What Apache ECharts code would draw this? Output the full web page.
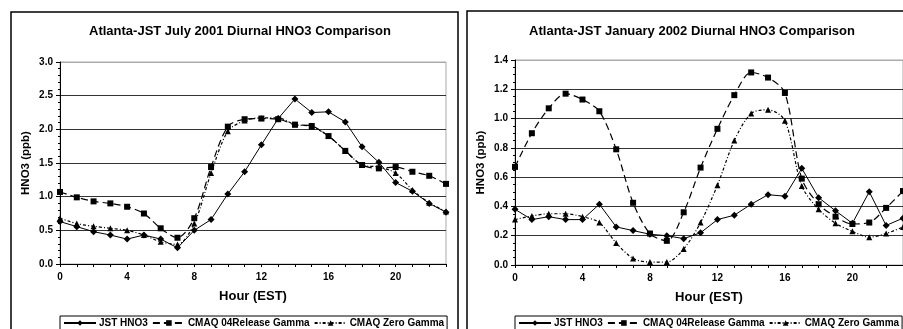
<!DOCTYPE html>
<html>
<head>
<meta charset="utf-8">
<script src="https://cdn.jsdelivr.net/npm/echarts@6/dist/echarts.min.js"></script>
<style>
html, body {margin: 0; padding: 0; background: #fff;}
#showcase {width: 903px; height: 329px;}
</style>
</head>
<body>
<div id="showcase"></div>
<script>
var hours = [];
for (var i = 0; i < 24; i++) hours.push(String(i));

var seriesNames = ["JST HNO3", "CMAQ 04Release Gamma", "CMAQ Zero Gamma"];
var titles = ["Atlanta-JST July 2001 Diurnal HNO3 Comparison", "Atlanta-JST January 2002 Diurnal HNO3 Comparison"];

// July 2001
var jstJul = [0.63, 0.555, 0.48, 0.43, 0.37, 0.43, 0.37, 0.24, 0.50, 0.66, 1.04, 1.37, 1.77, 2.16, 2.45, 2.25, 2.26, 2.11, 1.74, 1.51, 1.21, 1.08, 0.90, 0.77];
var relJul = [1.07, 0.99, 0.93, 0.90, 0.85, 0.75, 0.53, 0.39, 0.68, 1.44, 2.04, 2.15, 2.16, 2.15, 2.07, 2.05, 1.90, 1.68, 1.47, 1.42, 1.44, 1.37, 1.31, 1.19];
var zeroJul = [0.68, 0.60, 0.56, 0.53, 0.50, 0.43, 0.33, 0.29, 0.60, 1.35, 1.97, 2.13, 2.17, 2.17, 2.07, 2.04, 1.90, 1.68, 1.47, 1.44, 1.35, 1.10, 0.91, 0.78];

// January 2002
var jstJan = [0.38, 0.31, 0.33, 0.31, 0.31, 0.415, 0.26, 0.235, 0.21, 0.20, 0.18, 0.22, 0.31, 0.34, 0.415, 0.48, 0.47, 0.66, 0.46, 0.37, 0.285, 0.50, 0.27, 0.32];
var relJan = [0.67, 0.90, 1.07, 1.17, 1.13, 1.05, 0.79, 0.425, 0.215, 0.165, 0.36, 0.665, 0.93, 1.16, 1.315, 1.28, 1.175, 0.59, 0.415, 0.33, 0.28, 0.29, 0.39, 0.505];
var zeroJan = [0.31, 0.335, 0.35, 0.35, 0.33, 0.29, 0.15, 0.045, 0.02, 0.02, 0.11, 0.29, 0.545, 0.85, 1.035, 1.06, 0.985, 0.54, 0.38, 0.285, 0.23, 0.19, 0.215, 0.26];

var font = "Liberation Sans";
var bold = {fontFamily: font, fontWeight: "bold", color: "#000"};

// dark grid lines, the top one (plot border) light grey
function gridLines(n) {
	var c = [];
	for (var k = 0; k < n - 1; k++) c.push("#333");
	c.push("#aaa");
	return c;
}

function xAxis(idx) {
	return {
		type: "category", gridIndex: idx, data: hours, boundaryGap: false,
		name: "Hour (EST)", nameLocation: "middle", nameGap: 26,
		nameTextStyle: Object.assign({fontSize: 13}, bold),
		axisLine: {lineStyle: {color: "#000", width: 1}},
		axisTick: {interval: 0, length: 3, lineStyle: {color: "#000"}},
		axisLabel: Object.assign({interval: 3, fontSize: 10, margin: 8}, bold),
		splitLine: {show: false}
	};
}

function yAxis(idx, max, step, minorSplit) {
	return {
		type: "value", gridIndex: idx, min: 0, max: max, interval: step,
		name: "HNO3 (ppb)", nameLocation: "middle", nameGap: 28,
		nameTextStyle: Object.assign({fontSize: 11.5}, bold),
		axisLine: {show: true, lineStyle: {color: "#000", width: 1}},
		axisTick: {show: true, length: 4, lineStyle: {color: "#000"}},
		minorTick: {show: true, splitNumber: minorSplit, length: 2, lineStyle: {color: "#000"}},
		axisLabel: Object.assign({fontSize: 10, margin: 7, formatter: function (v) { return v.toFixed(1); }}, bold),
		splitLine: {show: true, lineStyle: {color: gridLines(Math.round(max / step) + 1), width: 1}}
	};
}

function makeSeries(idx, jst, rel, zero) {
	return [{
		name: seriesNames[0], type: "line", xAxisIndex: idx, yAxisIndex: idx, data: jst,
		symbol: "diamond", symbolSize: 7, itemStyle: {color: "#000"},
		lineStyle: {color: "#000", width: 1}
	}, {
		name: seriesNames[1], type: "line", xAxisIndex: idx, yAxisIndex: idx, data: rel,
		symbol: "rect", symbolSize: 6, smooth: 0.3, itemStyle: {color: "#000"},
		lineStyle: {color: "#000", width: 1.2, type: [7, 4]}
	}, {
		name: seriesNames[2], type: "line", xAxisIndex: idx, yAxisIndex: idx, data: zero,
		symbol: "triangle", symbolSize: 6, smooth: 0.3, itemStyle: {color: "#000"},
		lineStyle: {color: "#000", width: 1.2, type: [3, 2, 1, 2]}
	}];
}

function legend(left) {
	return {
		data: seriesNames, left: left, top: 316, orient: "horizontal",
		itemWidth: 32, itemHeight: 7, itemGap: 4,
		padding: [2, 3], borderColor: "#000", borderWidth: 1,
		textStyle: Object.assign({fontSize: 10, padding: [0, 0, 0, -2]}, bold),
		selectedMode: false
	};
}

var myChart = echarts.init(document.getElementById("showcase"));
var option = {
	backgroundColor: "#fff",
	animation: false,
	title: [
		{text: titles[0], left: 235, textAlign: "center", top: 20, textStyle: Object.assign({fontSize: 13}, bold)},
		{text: titles[1], left: 687, textAlign: "center", top: 20, textStyle: Object.assign({fontSize: 13}, bold)}
	],
	graphic: [
		{type: "rect", shape: {x: 11, y: 12, width: 447, height: 340}, style: {fill: null, stroke: "#000", lineWidth: 1.5}, z: 0},
		{type: "rect", shape: {x: 467, y: 11, width: 460, height: 340}, style: {fill: null, stroke: "#000", lineWidth: 1.5}, z: 0}
	],
	grid: [
		{left: 60, top: 62, width: 386, height: 202, show: true, borderColor: "#aaa", borderWidth: 1},
		{left: 515, top: 60, width: 388, height: 205, show: true, borderColor: "#aaa", borderWidth: 1}
	],
	legend: [legend(60), legend(515)],
	xAxis: [xAxis(0), xAxis(1)],
	yAxis: [yAxis(0, 3, 0.5, 5), yAxis(1, 1.4, 0.2, 4)],
	series: makeSeries(0, jstJul, relJul, zeroJul).concat(makeSeries(1, jstJan, relJan, zeroJan))
};
myChart.setOption(option);
</script>
</body>
</html>
